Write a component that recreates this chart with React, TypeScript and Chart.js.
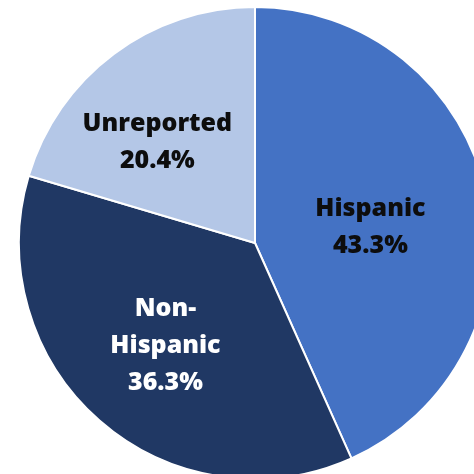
import React, { useEffect, useRef } from "react";
import { Chart, registerables } from "chart.js";

Chart.register(...registerables);

const categories = ["Hispanic", "Non-Hispanic", "Unreported"];
const labelLines = [["Hispanic"], ["Non-", "Hispanic"], ["Unreported"]];
const shares = [43.3, 36.3, 20.4];
const sliceColors = ["#4472C4", "#203864", "#B4C7E7"];
const textColors = ["#0d0d0d", "#ffffff", "#0d0d0d"];

// label placement: fraction of radius along the slice bisector, plus small nudges (px)
const labelFrac = [0.5, 0.55, 0.6];
const labelNudge = [
  [0, 7.5],
  [-4, 3],
  [-13, 11],
];

const labelPlugin = {
  id: "sliceLabels",
  afterDatasetsDraw(chart: any) {
    const meta = chart.getDatasetMeta(0);
    const ctx = chart.ctx;
    const fontSize = 25;
    const lineH = 37;
    const capH = fontSize * 0.714;
    ctx.save();
    ctx.font = `800 ${fontSize}px "Open Sans"`;
    ctx.textAlign = "center";
    ctx.textBaseline = "alphabetic";
    meta.data.forEach((arc: any, i: number) => {
      const p = arc.getProps(["x", "y", "startAngle", "endAngle", "outerRadius"], true);
      const mid = (p.startAngle + p.endAngle) / 2;
      const r = p.outerRadius * labelFrac[i];
      const ax = p.x + Math.cos(mid) * r + labelNudge[i][0];
      const ay = p.y + Math.sin(mid) * r + labelNudge[i][1];
      const lines = [...labelLines[i], shares[i].toFixed(1) + "%"];
      const n = lines.length;
      ctx.fillStyle = textColors[i];
      lines.forEach((t, j) => {
        const capMid = ay + (j - (n - 1) / 2) * lineH;
        ctx.fillText(t, ax, capMid + capH / 2);
      });
    });
    ctx.restore();
  },
};

export default function App() {
  const ref = useRef<HTMLCanvasElement | null>(null);
  useEffect(() => {
    if (!ref.current) return;
    const chart = new Chart(ref.current, {
      type: "pie",
      data: {
        labels: categories,
        datasets: [
          {
            data: shares,
            backgroundColor: sliceColors,
            borderColor: "#ffffff",
            borderWidth: 2,
          },
        ],
      },
      options: {
        responsive: false,
        animation: false,
        radius: 236,
        layout: { padding: 0 },
        plugins: {
          legend: { display: false },
          tooltip: { enabled: false },
        },
      },
      plugins: [labelPlugin],
    });
    return () => chart.destroy();
  }, []);
  return (
    <div
      style={{
        position: "fixed",
        left: 0,
        top: 0,
        width: 474,
        height: 474,
        overflow: "hidden",
        background: "#ffffff",
      }}
    >
      <canvas
        ref={ref}
        width={520}
        height={520}
        style={{ position: "absolute", left: -5, top: -17, width: 520, height: 520 }}
      />
    </div>
  );
}
